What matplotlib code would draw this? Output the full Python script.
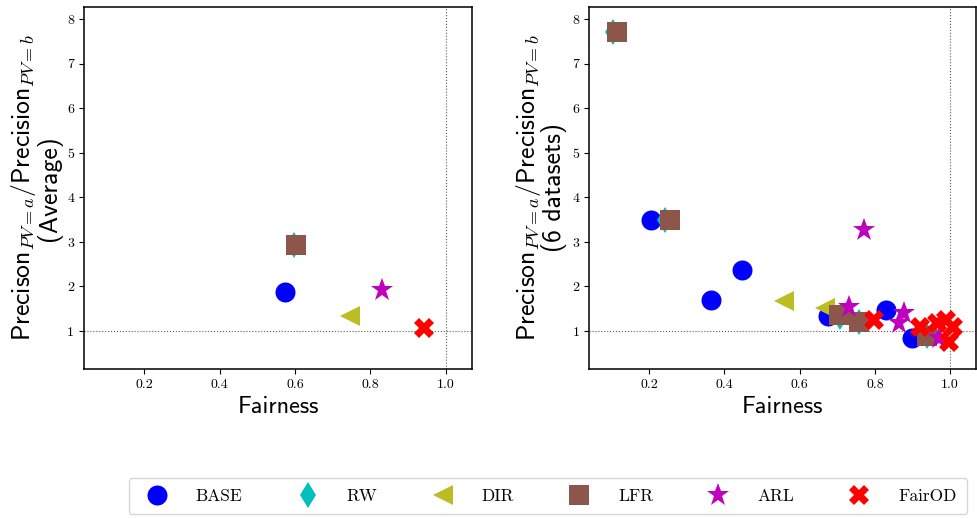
import matplotlib
matplotlib.use("Agg")
import matplotlib.pyplot as plt

plt.rcParams['mathtext.fontset'] = 'cm'
plt.rcParams['axes.unicode_minus'] = False

methods = ['BASE', 'RW', 'DIR', 'LFR', 'ARL', 'FairOD']
colors = ['#0000ff', '#00bfbf', '#bcbd22', '#8c564b', '#bf00bf', '#ff0000']
markers = ['o', 'd', '<', 's', '*', 'X']
msizes = [14.4, 13.5, 14, 14.4, 17, 14.5]

# average over datasets (left panel)
avg_fair = [0.573, 0.597, 0.746, 0.603, 0.831, 0.942]
avg_ratio = [1.87, 2.93, 1.34, 2.94, 1.91, 1.07]

# per dataset (right panel)
ds_fair = {
    'BASE': [0.204, 0.446, 0.364, 0.676, 0.830, 0.899],
    'RW': [0.104, 0.243, 0.706, 0.758, 0.938],
    'DIR': [0.557, 0.668],
    'LFR': [0.114, 0.256, 0.704, 0.757, 0.938],
    'ARL': [0.771, 0.730, 0.877, 0.863, 0.970],
    'FairOD': [0.797, 0.919, 0.965, 0.988, 1.008, 0.998],
}
ds_ratio = {
    'BASE': [3.49, 2.38, 1.70, 1.33, 1.48, 0.84],
    'RW': [7.71, 3.49, 1.32, 1.20, 0.88],
    'DIR': [1.67, 1.52],
    'LFR': [7.71, 3.49, 1.36, 1.21, 0.88],
    'ARL': [3.28, 1.55, 1.40, 1.19, 0.84],
    'FairOD': [1.25, 1.08, 1.19, 1.24, 1.10, 0.76],
}

fig = plt.figure(figsize=(9.77, 5.18), dpi=100)
ax1 = fig.add_axes([0.086, 0.288, 0.397, 0.699])
ax2 = fig.add_axes([0.603, 0.288, 0.396, 0.699])

handles = []
for i, m in enumerate(methods):
    h, = ax1.plot([avg_fair[i]], [avg_ratio[i]], linestyle='none', marker=markers[i],
                  color=colors[i], markersize=msizes[i], markeredgewidth=0)
    handles.append(h)
    ax2.plot(ds_fair[m], ds_ratio[m], linestyle='none', marker=markers[i],
             color=colors[i], markersize=msizes[i], markeredgewidth=0)

ylabels = ['(Average)', '(6 datasets)']
for ax, lab in zip([ax1, ax2], ylabels):
    ax.axhline(1, color='0.35', linestyle=':', linewidth=0.8, zorder=0)
    ax.axvline(1, color='0.35', linestyle=':', linewidth=0.8, zorder=0)
    ax.set_xlim(0.04, 1.069)
    ax.set_ylim(0.15, 8.285)
    ax.set_xticks([0.2, 0.4, 0.6, 0.8, 1.0])
    ax.set_yticks([1, 2, 3, 4, 5, 6, 7, 8])
    for t in ax.get_xticklabels() + ax.get_yticklabels():
        t.set_fontfamily('cmr10')
        t.set_fontsize(10)
    ax.set_xlabel('Fairness', fontfamily='cmss10', fontsize=17.5)
    ax.set_ylabel('Precison$_{PV=a}/$Precision$_{PV=b}$\n' + lab,
                  fontfamily='cmss10', fontsize=18.5, linespacing=0.9)
    for s in ax.spines.values():
        s.set_linewidth(1.1)

fig.legend(handles, methods, loc='lower center', bbox_to_anchor=(0.561, -0.01),
           ncol=6, prop={'family': 'cmr10', 'size': 12.5}, handletextpad=1.25,
           columnspacing=2.75, borderpad=0.6, frameon=True)

fig.savefig('out.png', dpi=100)
